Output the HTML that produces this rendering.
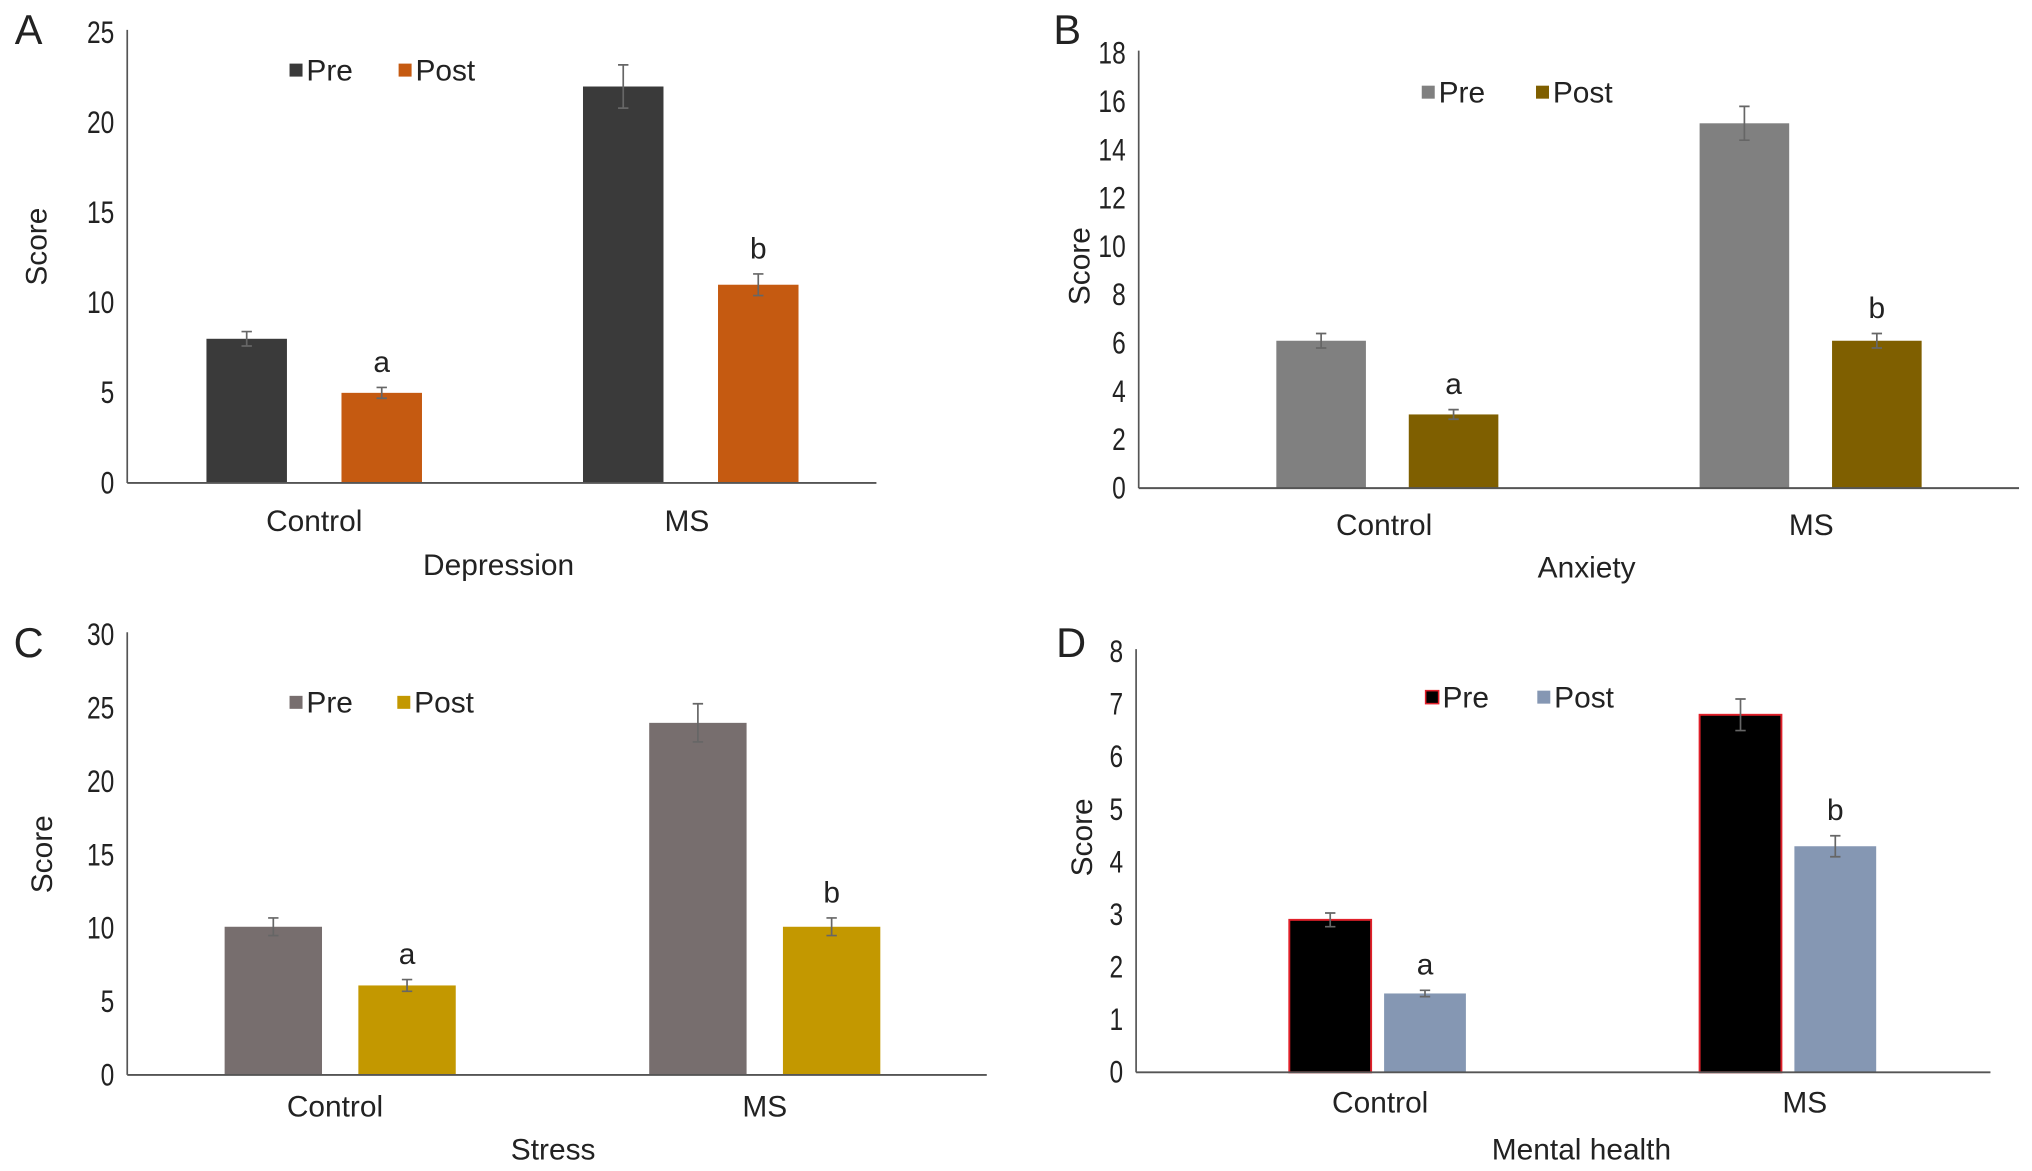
<!DOCTYPE html>
<html><head><meta charset="utf-8"><style>
html,body{margin:0;padding:0;background:#fff;}
svg{display:block;}
text{font-family:"Liberation Sans",sans-serif;fill:#222;}
</style></head><body>
<svg id="chart" width="2032" height="1171" viewBox="0 0 1565 902" preserveAspectRatio="none" xmlns="http://www.w3.org/2000/svg"></svg>
<script>
const categories = ["Control", "MS"];
const seriesNames = ["Pre", "Post"];
// Panel A: Depression
const depressionPre = [8, 22];
const depressionPost = [5, 11];
const depressionPreErr = [0.4, 1.2];
const depressionPostErr = [0.3, 0.6];
const depressionTicks = [0, 5, 10, 15, 20, 25];
// Panel B: Anxiety
const anxietyPre = [6.1, 15.1];
const anxietyPost = [3.05, 6.1];
const anxietyPreErr = [0.3, 0.7];
const anxietyPostErr = [0.2, 0.3];
const anxietyTicks = [0, 2, 4, 6, 8, 10, 12, 14, 16, 18];
// Panel C: Stress
const stressPre = [10.1, 24];
const stressPost = [6.1, 10.1];
const stressPreErr = [0.6, 1.3];
const stressPostErr = [0.4, 0.6];
const stressTicks = [0, 5, 10, 15, 20, 25, 30];
// Panel D: Mental health
const mentalPre = [2.9, 6.8];
const mentalPost = [1.5, 4.3];
const mentalPreErr = [0.13, 0.3];
const mentalPostErr = [0.06, 0.2];
const mentalTicks = [0, 1, 2, 3, 4, 5, 6, 7, 8];
const letters = ["a", "b"];

const NS = "http://www.w3.org/2000/svg";
const svg = document.getElementById("chart");
function mk(tag, attrs, parent, txt) {
  const e = document.createElementNS(NS, tag);
  for (const k in attrs) e.setAttribute(k, attrs[k]);
  if (txt !== undefined) e.textContent = txt;
  (parent || svg).appendChild(e);
  return e;
}

const panels = [
  {id:"depression", letter:"A", lx:22, ly:22, title:"Depression", pre:depressionPre, post:depressionPost, preErr:depressionPreErr, postErr:depressionPostErr, ticks:depressionTicks,
   ax:98, y0:372, yTop:25, xEnd:675, groupStart:[159,449], barW:62, gap:42, preColor:"#3a3a3a", postColor:"#c55a11", preStroke:null,
   legY:54, legPre:223, legPost:307, scoreX:28, scoreY:190, catY:401, catX:[242,529], titleX:384, titleY:435},
  {id:"anxiety", letter:"B", lx:822, ly:22, title:"Anxiety", pre:anxietyPre, post:anxietyPost, preErr:anxietyPreErr, postErr:anxietyPostErr, ticks:anxietyTicks,
   ax:877, y0:376, yTop:41, xEnd:1555, groupStart:[983,1309], barW:69, gap:33, preColor:"#808080", postColor:"#7f5f00", preStroke:null,
   legY:71, legPre:1095, legPost:1183, scoreX:831, scoreY:205, catY:404, catX:[1066,1395], titleX:1222, titleY:437},
  {id:"stress", letter:"C", lx:22, ly:494, title:"Stress", pre:stressPre, post:stressPost, preErr:stressPreErr, postErr:stressPostErr, ticks:stressTicks,
   ax:98, y0:828, yTop:489, xEnd:760, groupStart:[173,500], barW:75, gap:28, preColor:"#776e6e", postColor:"#c39800", preStroke:null,
   legY:541, legPre:223, legPost:306, scoreX:32, scoreY:658, catY:852, catX:[258,589], titleX:426, titleY:885},
  {id:"mental-health", letter:"D", lx:825, ly:494, title:"Mental health", pre:mentalPre, post:mentalPost, preErr:mentalPreErr, postErr:mentalPostErr, ticks:mentalTicks,
   ax:875, y0:826, yTop:502, xEnd:1533, groupStart:[993,1309], barW:63, gap:10, preColor:"#000000", postColor:"#8597b3", preStroke:"#e0202a",
   legY:537, legPre:1098, legPost:1184, scoreX:833, scoreY:645, catY:849, catX:[1063,1390], titleX:1218, titleY:885}
];

panels.forEach(p => {
  const g = mk("g", {});
  
  
  const maxV = p.ticks[p.ticks.length - 1];
  const yS = v => p.y0 - (v / maxV) * (p.y0 - p.yTop);

  const lt = mk("text", {x:p.lx, y:p.ly + 12, "font-size":32, "text-anchor":"middle"}, g, p.letter);
  
  

  p.ticks.forEach(t => {
    const s = String(t);
    const tx = mk("text", {x:p.ax - 10, y:yS(t) + 8, "font-size":24, "text-anchor":"end", textLength: s.length * 10.5, lengthAdjust:"spacingAndGlyphs"}, g, s);
    
    
  });
  const ya = mk("line", {x1:p.ax, y1:p.yTop - 2, x2:p.ax, y2:p.y0, stroke:"#555", "stroke-width":1.3}, g);
  
  

  categories.forEach((c, i) => {
    const xs = [p.groupStart[i], p.groupStart[i] + p.barW + p.gap];
    const vals = [p.pre[i], p.post[i]];
    const errs = [p.preErr[i], p.postErr[i]];
    vals.forEach((v, s) => {
      const attrs = {x:xs[s], y:yS(v), width:p.barW, height:p.y0 - yS(v), fill: s === 0 ? p.preColor : p.postColor};
      if (s === 0 && p.preStroke) { attrs.stroke = p.preStroke; attrs["stroke-width"] = 1.5; }
      const b = mk("rect", attrs, g);
      
      
      const cx = xs[s] + p.barW / 2;
      const eb = mk("path", {d:`M${cx},${yS(v + errs[s])}V${yS(v - errs[s])}M${cx-4},${yS(v + errs[s])}H${cx+4}M${cx-4},${yS(v - errs[s])}H${cx+4}`, stroke:"#666", "stroke-width":1.3, fill:"none"}, g);
      
      
    });
    const lx = xs[1] + p.barW / 2;
    const le = mk("text", {x:lx, y:yS(p.post[i] + p.postErr[i]) - 12, "font-size":23, "text-anchor":"middle"}, g, letters[i]);
    
    
    const cl = mk("text", {x:p.catX[i], y:p.catY + 8, "font-size":23, "text-anchor":"middle"}, g, c);
    
    
  });

  const xa = mk("line", {x1:p.ax, y1:p.y0, x2:p.xEnd, y2:p.y0, stroke:"#555", "stroke-width":1.5}, g);
  
  

  const sc = mk("text", {x:p.scoreX, y:p.scoreY, "font-size":23, "text-anchor":"middle", transform:`rotate(-90 ${p.scoreX} ${p.scoreY})`, dy:8}, g, "Score");
  
  
  const ti = mk("text", {x:p.titleX, y:p.titleY + 8, "font-size":23, "text-anchor":"middle"}, g, p.title);
  
  

  [p.legPre, p.legPost].forEach((lx, s) => {
    const attrs = {x:lx, y:p.legY - 5, width:10, height:10, fill: s === 0 ? p.preColor : p.postColor};
    if (s === 0 && p.preStroke) { attrs.stroke = p.preStroke; attrs["stroke-width"] = 1.2; }
    const sw = mk("rect", attrs, g);
    
    
    const lt2 = mk("text", {x:lx + 13, y:p.legY + 8, "font-size":23}, g, seriesNames[s]);
    
    
  });
});
</script>
</body></html>
